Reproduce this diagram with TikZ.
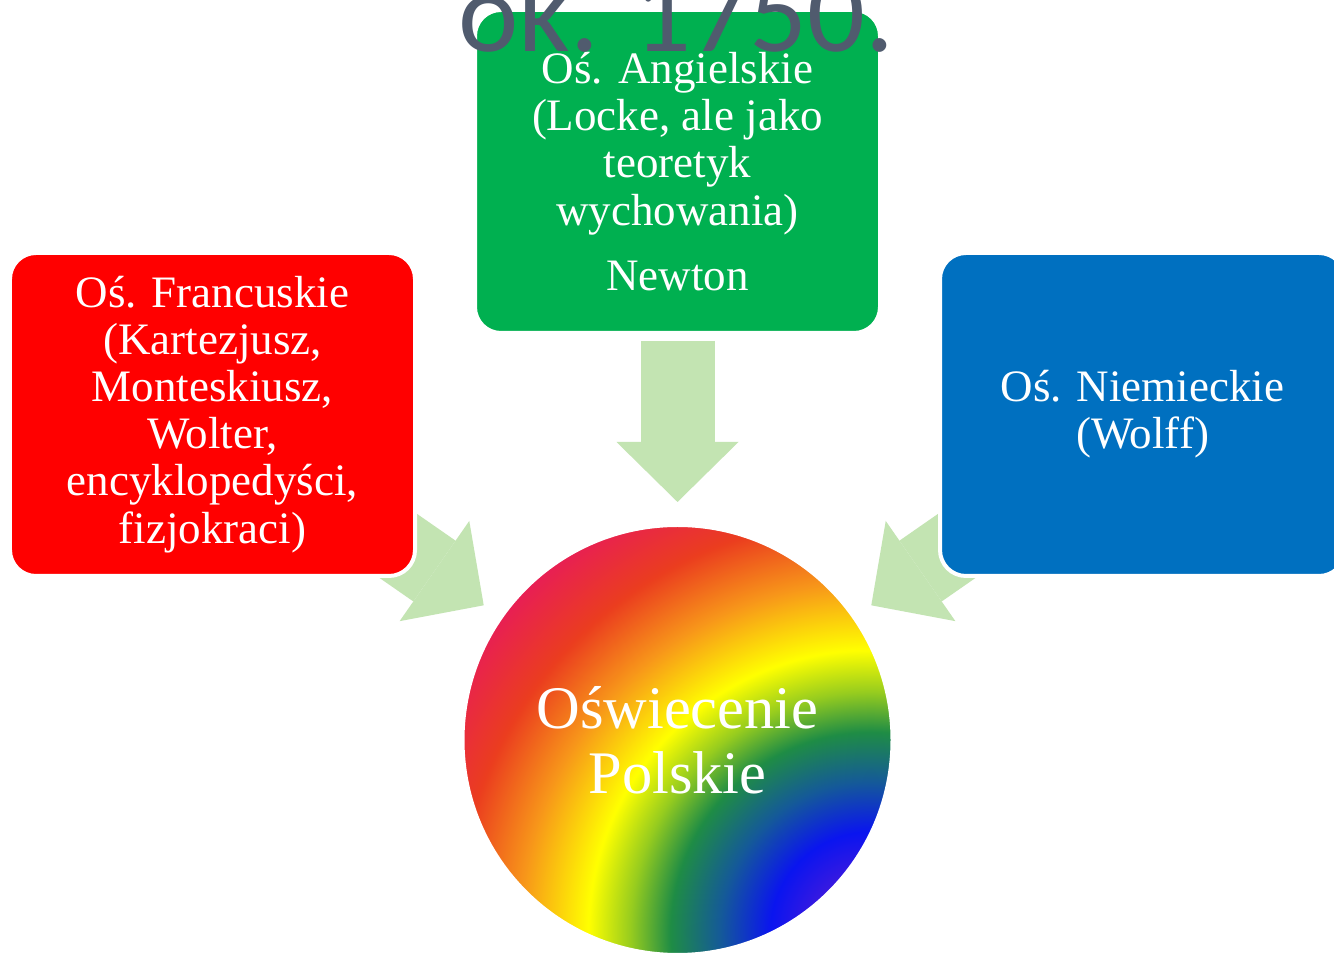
\documentclass[tikz,border=0pt]{standalone}
\usepackage{fontspec}
\setmainfont{Liberation Serif}
\newfontfamily\headfont{Carlito}
\usetikzlibrary{arrows.meta,positioning,calc}
\definecolor{frRed}{RGB}{255,0,0}
\definecolor{enGreen}{RGB}{0,176,80}
\definecolor{deBlue}{RGB}{0,112,192}
\definecolor{flowGreen}{RGB}{195,228,178}
\definecolor{headGray}{RGB}{80,91,110}
\pgfdeclareradialshading{rainbow}{\pgfpoint{0bp}{0bp}}{%
    rgb(0bp)=(0.33,0.16,0.82);
    rgb(3bp)=(0.22,0.10,0.88);
    rgb(5bp)=(0.04,0.08,0.94);
    rgb(7.5bp)=(0.08,0.35,0.60);
    rgb(10bp)=(0.12,0.55,0.27);
    rgb(12bp)=(0.59,0.80,0.12);
    rgb(14.1bp)=(1,1,0);
    rgb(17.5bp)=(0.97,0.59,0.10);
    rgb(20.75bp)=(0.92,0.24,0.12);
    rgb(24.3bp)=(0.91,0.12,0.33);
    rgb(50bp)=(0.91,0.12,0.33)}
\pgfdeclarelayer{back}
\pgfsetlayers{back,main}
\tikzset{
    school/.style={
        rectangle,
        rounded corners=0.26cm,
        draw=white,
        line width=0.04cm,
        text=white,
        align=center,
        minimum width=4.05cm,
        minimum height=3.23cm,
        font=\fontsize{12.8}{13.4}\selectfont,
    },
    bulb/.style={
        circle,
        draw=white,
        line width=0.02cm,
        minimum size=4.28cm,
        text=white,
        align=center,
        font=\fontsize{17.2}{18.5}\selectfont,
    },
    flow/.style={
        draw=flowGreen,
        line width=0.74cm,
        -{Triangle[width=1.22cm,length=0.60cm,line width=0pt]},
    },
}
\begin{document}
\begin{tikzpicture}[
    node distance=4.65cm,
    on grid]

\useasboundingbox (0,0) rectangle (13.34,9.56);

% French
\node
[
    school,
    fill=frRed
] (fr) at (2.125,5.415)
{
    Oś. Francuskie\\(Kartezjusz,\\Monteskiusz,\\Wolter,\\encyklopedyści,\\fizjokraci)
};
% English
\node
[
    school,
    fill=enGreen
] (en) [above right=2.43cm and 4.65cm of fr]
{
    Oś. Angielskie\\(Locke, ale jako\\teoretyk\\wychowania)\\[0.18cm]Newton
};
% German
\node
[
    school,
    fill=deBlue
] (de) [right=9.3cm of fr]
{
    Oś. Niemieckie\\(Wolff)
};
% Polish
\node
[
    bulb,
    path picture={
        \shade[shading=rainbow]
            ($(path picture bounding box.center)+(-3.07,-6.92)$) rectangle ++(10,10);
    }
] (pl) [below=5.685cm of en]
{
    Oświecenie\\Polskie
};

% Flows
\begin{pgfonlayer}{back}
\fill[white] (0,0) rectangle (13.34,9.56);
\draw[flow] ([yshift=-0.06cm]en.south) -- ([yshift=0.23cm]pl.north);
\draw[flow] ($(pl.center)+(145.2:4.0)$) -- ($(pl.center)+(145.2:2.36)$);
\draw[flow] ($(pl.center)+(34.8:4.0)$) -- ($(pl.center)+(34.8:2.36)$);
\end{pgfonlayer}

% Title
\node[font=\headfont\fontsize{32.5}{34}\selectfont, text=headGray, anchor=base, inner sep=0pt] (year) at (6.765,9.04) {ok. 1750.};

\end{tikzpicture}
\end{document}
